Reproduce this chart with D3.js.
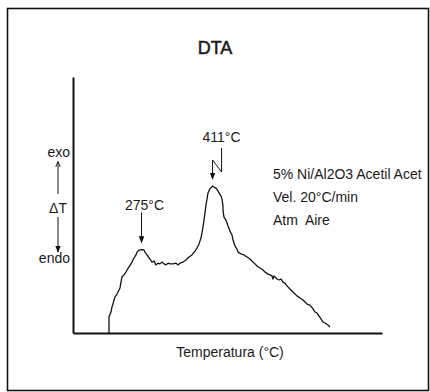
<!DOCTYPE html>
<html>
<head>
<meta charset="utf-8">
<script src="https://cdn.jsdelivr.net/npm/d3@7"></script>
<style>
  html, body { margin: 0; padding: 0; background: #fff; }
  svg { display: block; }
  text { font-family: "Liberation Sans", Arial, sans-serif; fill: #1a1a1a; white-space: pre; }
</style>
</head>
<body>
<div id="chart"></div>
<script>
// DTA trace: temperature (°C) against ΔT (arbitrary units)
const temperature = [209.9, 209.9, 213.8, 215.7, 217.7, 219.6, 221.6, 225.4, 229.3, 231.3, 233.2, 235.1, 239.0, 242.9, 244.9, 248.7, 252.6, 254.6, 258.4, 262.3, 264.3, 268.2, 275.0, 277.9, 279.8, 283.7, 289.5, 293.4, 297.3, 301.2, 305.0, 308.9, 312.8, 316.7, 320.6, 324.5, 328.3, 334.2, 340.0, 343.9, 347.8, 353.6, 359.4, 365.2, 371.1, 376.9, 380.8, 384.7, 388.5, 390.5, 392.4, 394.4, 396.3, 398.2, 400.2, 402.1, 406.0, 411.0, 413.8, 417.7, 421.5, 423.5, 427.4, 429.3, 431.0, 431.6, 433.2, 437.1, 441.0, 444.8, 448.7, 450.7, 454.6, 458.4, 460.4, 466.2, 472.0, 477.9, 483.7, 489.5, 493.4, 497.3, 503.1, 508.9, 512.8, 518.6, 522.5, 526.4, 528.3, 530.3, 536.1, 540.0, 543.9, 547.8, 551.6, 555.5, 561.3, 567.2, 571.1, 574.9, 580.8, 586.6, 590.5, 594.4, 600.2, 606.0, 609.9, 613.8, 617.7, 621.5, 625.4, 629.3, 635.1, 639.0];
const deltaT = [0, 6.3, 8.2, 10.2, 11.3, 12.9, 14.1, 15.2, 16.8, 17.6, 19.9, 21.9, 22.7, 23.8, 24.6, 25.8, 27.0, 27.7, 29.3, 30.5, 31.6, 32.4, 32.6, 32.4, 31.6, 30.5, 28.9, 27.7, 28.1, 26.6, 27.3, 27.0, 27.7, 27.0, 26.6, 27.3, 27.0, 27.0, 27.3, 26.6, 27.3, 27.7, 28.5, 29.7, 30.5, 32.0, 33.2, 34.8, 37.1, 39.1, 41.4, 44.1, 46.9, 50.0, 52.3, 54.7, 56.3, 57.4, 57.0, 56.6, 55.5, 54.7, 53.5, 52.3, 50.0, 47.3, 45.3, 44.1, 41.8, 39.8, 38.3, 36.3, 34.0, 32.8, 31.6, 30.9, 30.5, 29.7, 28.9, 27.7, 27.0, 26.2, 25.4, 24.6, 23.8, 23.0, 22.7, 22.3, 21.1, 22.3, 21.1, 20.7, 21.1, 19.9, 19.5, 18.4, 17.2, 16.0, 15.2, 14.5, 13.7, 12.9, 12.1, 11.3, 10.9, 9.4, 8.2, 7.8, 6.6, 5.5, 4.3, 3.9, 3.1, 2.3];

// Marked peaks
const peakTemps = [275, 411];
const peakLabels = ["275°C", "411°C"];

// Axis extents
const tempDomain = [140, 740];
const deltaDomain = [0, 100];

// Legend text
const infoLines = ["5% Ni/Al2O3 Acetil Acet", "Vel. 20°C/min", "Atm  Aire"];

const W = 430, H = 392;
const svg = d3.select("#chart").append("svg").attr("width", W).attr("height", H);

// outer frame
svg.append("rect")
  .attr("x", 7.5).attr("y", 8.5).attr("width", 421).attr("height", 382)
  .attr("fill", "none").attr("stroke", "#111").attr("stroke-width", 1.6);

const x = d3.scaleLinear().domain(tempDomain).range([73, 382]);
const y = d3.scaleLinear().domain(deltaDomain).range([333, 77]);

// title
svg.append("text").attr("x", 215).attr("y", 54)
  .attr("text-anchor", "middle").attr("font-size", 18)
  .attr("stroke", "#1a1a1a").attr("stroke-width", 0.5)
  .text("DTA");

// axes (no ticks)
const xAxis = d3.axisBottom(x).tickValues([]).tickSizeOuter(0);
const yAxis = d3.axisLeft(y).tickValues([]).tickSizeOuter(0);
svg.append("g").attr("transform", `translate(0,${y(0)})`).call(xAxis)
  .select(".domain").attr("stroke", "#111").attr("stroke-width", 2);
svg.append("g").attr("transform", `translate(${x(tempDomain[0])},0)`).call(yAxis)
  .select(".domain").attr("stroke", "#111").attr("stroke-width", 2);

// x title
svg.append("text").attr("x", 230).attr("y", 357)
  .attr("text-anchor", "middle").attr("font-size", 14)
  .text("Temperatura (°C)");

// y side: exo / ΔT / endo with arrows
const defs = svg.append("defs");
defs.append("marker").attr("id", "head").attr("viewBox", "0 0 10 10")
  .attr("refX", 9).attr("refY", 5).attr("markerWidth", 7).attr("markerHeight", 7)
  .attr("orient", "auto")
  .append("path").attr("d", "M0,1 L10,5 L0,9 Z").attr("fill", "#111");
defs.append("marker").attr("id", "thin").attr("viewBox", "0 0 10 10")
  .attr("refX", 9).attr("refY", 5).attr("markerWidth", 6).attr("markerHeight", 6)
  .attr("orient", "auto")
  .append("path").attr("d", "M0,1 L10,5 L0,9").attr("fill", "none").attr("stroke", "#111").attr("stroke-width", 1.5);

svg.append("text").attr("x", 70).attr("y", 157).attr("text-anchor", "end").attr("font-size", 14).text("exo");
svg.append("text").attr("x", 58).attr("y", 213).attr("text-anchor", "middle").attr("font-size", 14).text("ΔT");
svg.append("text").attr("x", 70).attr("y", 263).attr("text-anchor", "end").attr("font-size", 14).text("endo");
svg.append("line").attr("x1", 58).attr("y1", 194).attr("x2", 58).attr("y2", 162)
  .attr("stroke", "#111").attr("stroke-width", 1).attr("marker-end", "url(#thin)");
svg.append("line").attr("x1", 58).attr("y1", 217).attr("x2", 58).attr("y2", 252)
  .attr("stroke", "#111").attr("stroke-width", 1).attr("marker-end", "url(#head)");

// DTA curve
const pts = temperature.map((t, i) => [t, deltaT[i]]);
svg.append("path").datum(pts)
  .attr("fill", "none").attr("stroke", "#111").attr("stroke-width", 1.3)
  .attr("stroke-linejoin", "round")
  .attr("d", d3.line().x(d => x(d[0])).y(d => y(d[1])));

// peak annotations
const peakValue = t => deltaT[temperature.indexOf(t)];
{
  const px = x(peakTemps[0]), py = y(peakValue(peakTemps[0]));
  svg.append("text").attr("x", px + 2).attr("y", py - 40).attr("text-anchor", "middle")
    .attr("font-size", 14).text(peakLabels[0]);
  svg.append("line").attr("x1", px - 1).attr("y1", py - 37).attr("x2", px - 1).attr("y2", py - 7)
    .attr("stroke", "#111").attr("stroke-width", 1).attr("marker-end", "url(#head)");
}
{
  const px = x(peakTemps[1]), py = y(peakValue(peakTemps[1]));
  svg.append("text").attr("x", px + 9).attr("y", py - 44).attr("text-anchor", "middle")
    .attr("font-size", 14).text(peakLabels[1]);
  svg.append("path")
    .attr("d", `M${px + 9},${py - 38} L${px + 9},${py - 14} L${px},${py - 26} L${px},${py - 7}`)
    .attr("fill", "none").attr("stroke", "#111").attr("stroke-width", 1)
    .attr("marker-end", "url(#head)");
}

// run conditions
svg.selectAll("text.info").data(infoLines).join("text")
  .attr("class", "info").attr("x", 273).attr("y", (d, i) => 179 + i * 23)
  .attr("font-size", 14).text(d => d);
</script>
</body>
</html>
